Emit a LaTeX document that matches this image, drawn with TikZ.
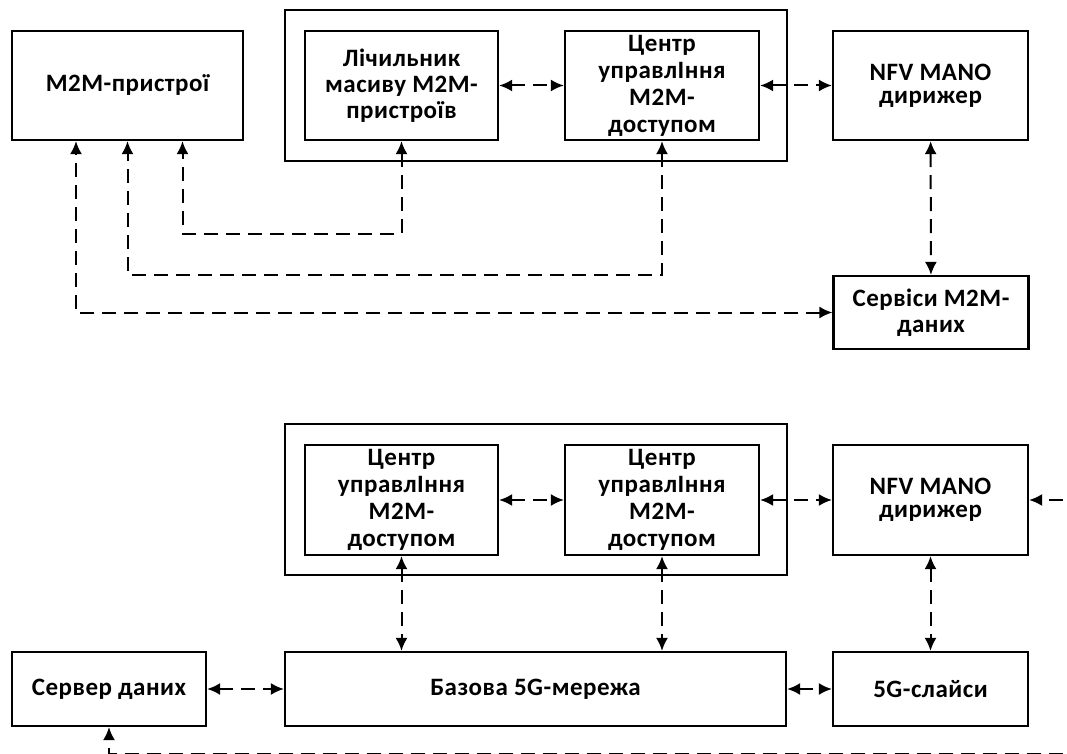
\documentclass[tikz,border=0pt]{standalone}
\usepackage{fontspec}
\setmainfont{Carlito}[LetterSpace=2]
\usetikzlibrary{arrows.meta}
\tikzset{
  box/.style={draw, line width=2.2pt, inner sep=0pt, align=center,
    font=\bfseries\fontsize{25}{26}\selectfont},
  frame/.style={draw, line width=2.2pt, inner sep=0pt},
  conn/.style={line width=2pt, dash pattern=on 14pt off 8pt,
    {Latex[length=13pt,width=12pt]}-{Latex[length=13pt,width=12pt]}},
  conn1/.style={line width=2pt, dash pattern=on 14pt off 8pt,
    -{Latex[length=13pt,width=12pt]}},
}
\begin{document}
\begin{tikzpicture}[x=1pt,y=-1pt]
\useasboundingbox (0,0) rectangle (1067,754);
\clip (0,0) rectangle (1067,754);
% ---------- top part ----------
\node[frame, minimum width=502, minimum height=151] (outer1) at (536,85.5) {};
\node[box, minimum width=231, minimum height=109] (m2m) at (127.5,85.5) {M2M-пристрої};
\node[box, minimum width=193, minimum height=109] (cnt) at (401.5,85.5) {Лічильник\\масиву M2M-\\пристроїв};
\node[box, minimum width=194, minimum height=109, font=\bfseries\fontsize{25}{27}\selectfont] (ctr1) at (662,85.5) {Центр\\управлІння\\M2M-\\доступом};
\node[box, minimum width=195, minimum height=109, font=\bfseries\fontsize{25}{23}\selectfont] (nfv1) at (930.5,85.5) {NFV MANO\\дирижер};
\node[box, minimum width=195, minimum height=73] (serv) at (931,312.5) {Сервіси M2M-\\даних};
\draw[conn] (cnt) -- (ctr1);
\draw[conn] (ctr1) -- (nfv1);
\draw[conn] (nfv1) -- (serv);
\draw[conn] (cnt.south) |- ++(0,92.5) -| ([xshift=55]m2m.south);
\draw[conn] (ctr1.south) |- ++(0,133.5) -| (m2m.south);
\draw[conn] (serv.west) -| ([xshift=-51.5]m2m.south);
% ---------- bottom part ----------
\node[frame, minimum width=502, minimum height=151] (outer2) at (536,499.5) {};
\node[box, minimum width=193, minimum height=110, font=\bfseries\fontsize{25}{27}\selectfont] (ctrA) at (401.5,500) {Центр\\управлІння\\M2M-\\доступом};
\node[box, minimum width=194, minimum height=110, font=\bfseries\fontsize{25}{27}\selectfont] (ctrB) at (662,500) {Центр\\управлІння\\M2M-\\доступом};
\node[box, minimum width=195, minimum height=110, font=\bfseries\fontsize{25}{23}\selectfont] (nfv2) at (930.5,500) {NFV MANO\\дирижер};
\node[box, minimum width=194, minimum height=74] (server) at (109,689) {Сервер даних};
\node[box, minimum width=501, minimum height=74] (base) at (535.5,689) {Базова 5G-мережа};
\node[box, minimum width=195, minimum height=74] (slices) at (930.5,689) {5G-слайси};
\coordinate (rin) at (1085,500);
\coordinate (bot) at (1085,753.5);
\draw[conn] (ctrA) -- (ctrB);
\draw[conn] (ctrB) -- (nfv2);
\draw[conn1] (rin) -- (nfv2.east);
\draw[conn] (ctrA.south) -- (ctrA.south |- base.north);
\draw[conn] (ctrB.south) -- (ctrB.south |- base.north);
\draw[conn] (nfv2) -- (slices);
\draw[conn] (server) -- (base);
\draw[conn] (base) -- (slices);
\draw[conn1] (bot) -| (server.south);
\end{tikzpicture}
\end{document}
